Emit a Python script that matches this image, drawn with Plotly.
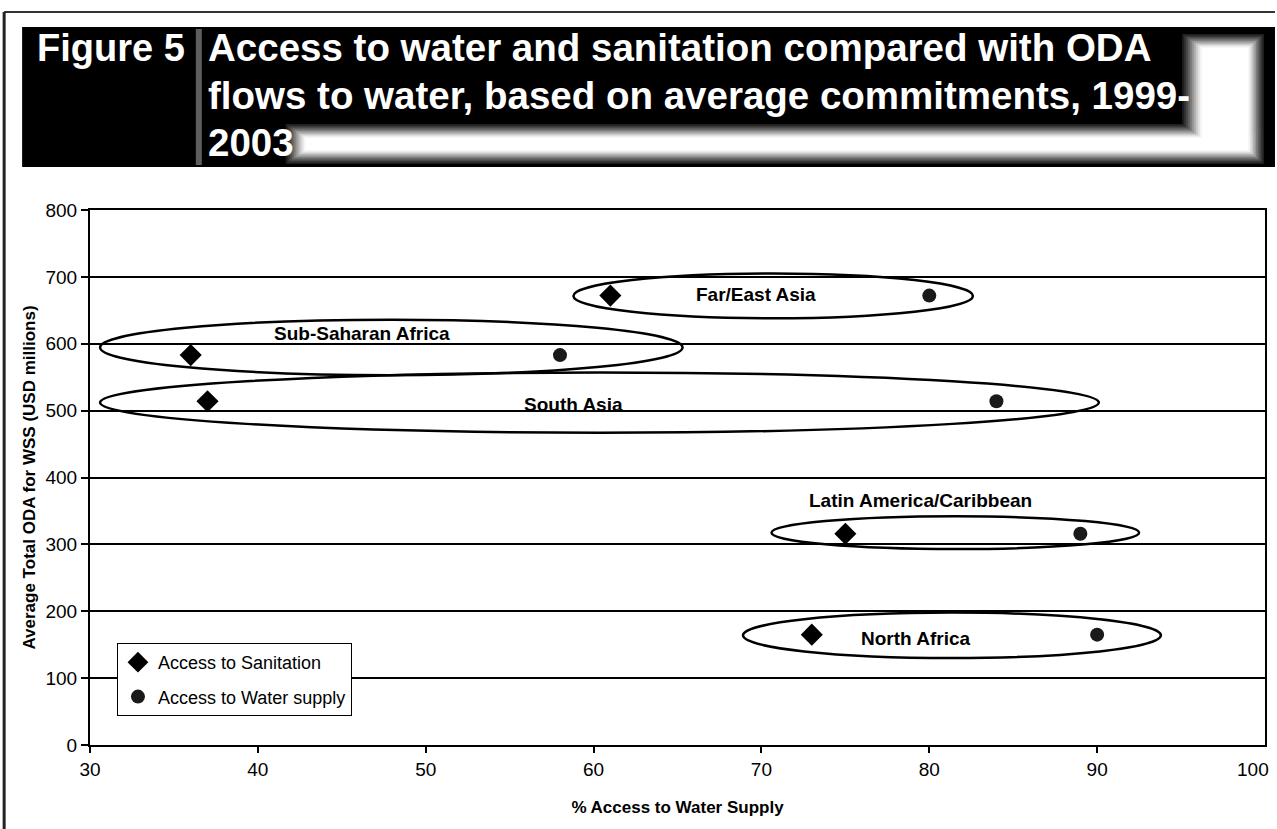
import plotly.graph_objects as go

# Regional averages, 1999-2003
regions = ["Sub-Saharan Africa", "South Asia", "Far/East Asia",
           "Latin America/Caribbean", "North Africa"]
oda_usd_millions = [583, 514, 672, 316, 165]
sanitation_access = [36, 37, 61, 75, 73]
water_access = [58, 84, 80, 89, 90]

# Group outlines (x0, x1, y0, y1) and label anchors, in data units
group_x0 = [30.6, 30.6, 58.8, 70.6, 68.9]
group_x1 = [65.3, 90.1, 82.6, 92.5, 93.8]
group_y0 = [553, 467, 638, 293, 130]
group_y1 = [636, 557, 705, 342, 198]
label_x = [46.2, 58.8, 69.7, 79.5, 79.2]
label_y = [615, 509, 674, 365, 160]

x_ticks = [30, 40, 50, 60, 70, 80, 90]
y_ticks = [0, 100, 200, 300, 400, 500, 600, 700, 800]

W, H = 1277, 829
L, R, T, B = 90, 10, 210, 84
PW, PH = W - L - R, H - T - B

def px(x):
    return (x - L) / PW

def py(y):
    return (H - B - y) / PH

ARIAL = "Liberation Sans, Arial, sans-serif"

fig = go.Figure()
fig.add_trace(go.Scatter(
    x=sanitation_access, y=oda_usd_millions, mode="markers",
    name="Access to Sanitation", legendgroup="san",
    marker=dict(symbol="diamond", size=17, color="black"),
))
fig.add_trace(go.Scatter(
    x=water_access, y=oda_usd_millions, mode="markers",
    name="Access to Water supply", legendgroup="wat",
    marker=dict(symbol="circle", size=14, color="#1a1a1a"),
))

shapes = []
annotations = []

# ellipses around each region's pair of points
for i in range(len(regions)):
    shapes.append(dict(type="circle", xref="x", yref="y",
                       x0=group_x0[i], x1=group_x1[i],
                       y0=group_y0[i], y1=group_y1[i],
                       line=dict(color="black", width=2.5), layer="above"))
    annotations.append(dict(x=label_x[i], y=label_y[i], xref="x", yref="y",
                            text="<b>" + regions[i] + "</b>", showarrow=False,
                            font=dict(family=ARIAL, size=19, color="black")))

# page frame
shapes.append(dict(type="line", xref="paper", yref="paper",
                   x0=px(4), x1=px(W), y0=py(12), y1=py(12),
                   line=dict(color="#333", width=2)))
shapes.append(dict(type="line", xref="paper", yref="paper",
                   x0=px(4), x1=px(4), y0=py(12), y1=py(H),
                   line=dict(color="#222", width=3)))

# header band
shapes.append(dict(type="rect", xref="paper", yref="paper",
                   x0=px(22), x1=px(W), y0=py(167), y1=py(27),
                   fillcolor="black", line=dict(width=0)))
shapes.append(dict(type="rect", xref="paper", yref="paper",
                   x0=px(196), x1=px(202), y0=py(165), y1=py(29),
                   fillcolor="#5e5e5e", line=dict(width=0)))

# soft light patch in the lower right of the header (right strip + bottom strip)
glow = ["#1e1e1e", "#333333", "#4a4a4a", "#626262", "#7c7c7c", "#979797",
        "#b2b2b2", "#cccccc", "#e4e4e4", "#f6f6f6", "#ffffff"]
for k, col in enumerate(glow):
    dx = 2 * k
    dy = 1.4 * k
    shapes.append(dict(type="rect", xref="paper", yref="paper",
                       x0=px(1184 + dx), x1=px(1266 - dx * 0.8),
                       y0=py(163 - dy), y1=py(34 + dy),
                       fillcolor=col, line=dict(width=0)))
    shapes.append(dict(type="rect", xref="paper", yref="paper",
                       x0=px(286 + dx), x1=px(1266 - dx * 0.8),
                       y0=py(164 - dy), y1=py(124 + dy),
                       fillcolor=col, line=dict(width=0)))

HEAD = "Liberation Sans, Arial, sans-serif"
annotations.append(dict(x=px(35), y=py(48), xref="paper", yref="paper",
                        xanchor="left", yanchor="middle", showarrow=False,
                        text="<b>Figure 5</b>",
                        font=dict(family=HEAD, size=38, color="white")))
title_lines = ["Access to water and sanitation compared with ODA",
               "flows to water, based on average commitments, 1999-",
               "2003"]
for k, line in enumerate(title_lines):
    annotations.append(dict(x=px(206), y=py(48 + 47 * k), xref="paper", yref="paper",
                            xanchor="left", yanchor="middle", showarrow=False,
                            text="<b>" + line + "</b>",
                            font=dict(family=HEAD, size=38.5, color="white")))

# last x tick label, kept inside the page
annotations.append(dict(x=100, y=0, xref="x", yref="y", xanchor="right",
                        yanchor="top", xshift=6, yshift=-12, showarrow=False,
                        text="100", font=dict(family=ARIAL, size=19, color="black")))

fig.update_layout(
    width=W, height=H, autosize=False,
    margin=dict(l=L, r=R, t=T, b=B, pad=0),
    paper_bgcolor="white", plot_bgcolor="white",
    font=dict(family=ARIAL, color="black"),
    shapes=shapes, annotations=annotations,
    showlegend=True,
    legend=dict(x=px(117), y=py(643), xanchor="left", yanchor="top",
                bgcolor="white", bordercolor="black", borderwidth=1,
                font=dict(family=ARIAL, size=18, color="black"),
                tracegroupgap=8, traceorder="grouped", entrywidth=210),
    xaxis=dict(range=[30, 100], tickvals=x_ticks, showgrid=False, zeroline=False,
               showline=True, linecolor="black", linewidth=2, mirror=True,
               ticks="outside", ticklen=6, tickwidth=2, tickcolor="black",
               tickfont=dict(family=ARIAL, size=19),
               title=dict(text="<b>% Access to Water Supply</b>", standoff=22,
                          font=dict(family=ARIAL, size=17))),
    yaxis=dict(range=[0, 800], tickvals=y_ticks, showgrid=True,
               gridcolor="black", gridwidth=2, zeroline=False,
               showline=True, linecolor="black", linewidth=2, mirror=True,
               ticks="outside", ticklen=7, tickwidth=2, tickcolor="black",
               tickfont=dict(family=ARIAL, size=19),
               title=dict(text="<b>Average Total ODA for WSS (USD millions)</b>",
                          standoff=6, font=dict(family=ARIAL, size=17))),
)

fig.write_html("out.html")
